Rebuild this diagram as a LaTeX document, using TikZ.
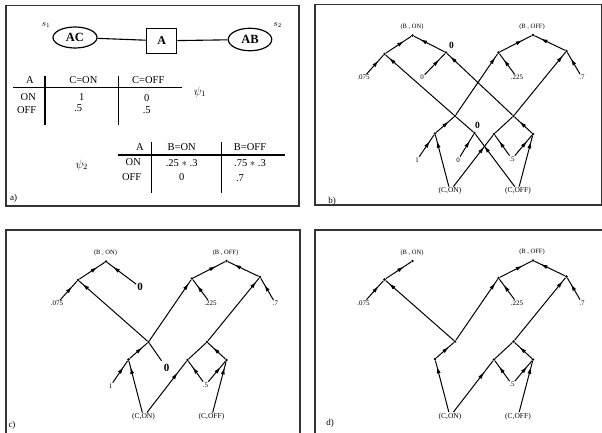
\documentclass[tikz,border=0pt]{standalone}
\usepackage{fontspec}
\setmainfont{Liberation Serif}
\usetikzlibrary{shapes.geometric,decorations.markings,arrows.meta}
\newcommand\TreeBase{%
 \node[bl] (lBON) at (412,27) {(B , ON)};
 \node[bl] (lBOFF) at (532,26.5) {(B , OFF)};
 \node[vtx] (BON) at (412.5,35.5) {};
 \node[vtx] (BOFF) at (533,35) {};
 \node[vtx] (L1) at (384.5,54) {};
 \node[vtx] (L2) at (498.5,52.5) {};
 \node[vtx] (R2) at (566.5,51) {};
 \node[vtx] (N1) at (435,133.5) {};
 \node[vtx] (N2) at (455,116) {};
 \node[vtx] (N4) at (513.5,116) {};
 \node[vtx] (N5) at (533,134) {};
 \node[vtx] (N6) at (494,134) {};
 \node[lf] (v075) at (363.5,77.5) {.075};
 \node[lf] (v225) at (517,77.5) {.225};
 \node[lf] (v7) at (582,77.5) {.7};
 \node[lf] (v5) at (512,159) {.5};
 \node[cl] (cON) at (450,191) {(C,ON)};
 \node[cl] (cOFF) at (518,191) {(C,OFF)};
 \draw[ar] (L1) -- (BON);
 \draw[ar] (L2) -- (BOFF);
 \draw[ar=0.8] (R2) -- (BOFF);
 \draw[ar] (v075) -- (L1);
 \draw[ar] (v225) -- (L2);
 \draw[ar] (v7) -- (R2);
 \draw[ar=-4pt] (N2) -- (L1);
 \draw[ar=-4pt] (N2) -- (L2);
 \draw[ar=-4pt] (N4) -- (R2);
 \draw[ar] (N1) -- (N2);
 \draw[ed] (N6) -- (N4);
 \draw[ar] (N5) -- (N4);
 \draw[ar] (v5) -- (N6);
 \draw[ar] (v5) -- (N5);
 \draw[ar=0.78] (cON) -- (N6);
 \draw[ar=-6pt] (cOFF) -- (N5);
 \draw[ar=-6pt] (cON) -- (N1);
}
\begin{document}
\begin{tikzpicture}[x=1pt,y=-1pt,
  vtx/.style={circle,fill,inner sep=0pt,minimum size=2.8pt},
  lf/.style={inner sep=0.8pt,font=\fontsize{7}{8}\selectfont},
  cl/.style={inner sep=0.8pt,font=\fontsize{7.5}{8}\selectfont},
  bl/.style={inner sep=0.8pt,font=\fontsize{6.5}{7}\selectfont},
  zb/.style={inner sep=0.8pt,font=\fontsize{9.5}{10}\selectfont\bfseries},
  zc/.style={inner sep=0.8pt,font=\fontsize{11}{12}\selectfont\bfseries},
  ed/.style={line width=1pt},
  ar/.style={ed,postaction={decorate},decoration={markings,mark=at position #1 with {\arrow{Latex[length=7pt,width=4pt]}}}},
  ar/.default=0.72,
  frame/.style={line width=1.7pt,draw=black!80},
  tab/.style={font=\fontsize{10.5}{11}\selectfont,inner sep=0pt},
  rule/.style={line width=1.2pt},
  plab/.style={font=\fontsize{9}{10}\selectfont,inner sep=0pt}
]
\useasboundingbox (0,0) rectangle (602,432);
% frames
\draw[frame] (6,5.5) rectangle (299,206);
\draw[frame] (315,4.5) rectangle (602,205);
\draw[frame] (6,230) rectangle (300,436);
\draw[frame] (315,230) rectangle (604,436);
% ---------- panel a ----------
\node[draw,ellipse,line width=1.2pt,minimum width=44pt,minimum height=21pt,inner sep=0pt,font=\fontsize{12.5}{13}\selectfont\bfseries] (AC) at (75,37.5) {AC};
\node[draw,rectangle,line width=1.2pt,minimum width=30pt,minimum height=25pt,inner sep=0pt,font=\fontsize{12}{13}\selectfont\bfseries] (A) at (161.7,40.8) {A};
\node[draw,ellipse,line width=1.2pt,minimum width=43.5pt,minimum height=22.5pt,inner sep=0pt,font=\fontsize{12.5}{13}\selectfont\bfseries] (AB) at (250,39.5) {AB};
\draw[line width=1.1pt] (AC) -- (A) -- (AB);
\node[inner sep=0pt,font=\fontsize{9}{10}\selectfont] (s1) at (46,25) {$s_1$};
\node[inner sep=0pt,font=\fontsize{9}{10}\selectfont] (s2) at (277.5,25.5) {$s_2$};
% table psi1
\node[tab] (t1a) at (30,80) {A};
\node[tab] (t1b) at (83.3,80) {C=ON};
\node[tab] (t1c) at (148.3,80) {C=OFF};
\node[tab] (t1d) at (28.3,97) {ON};
\node[tab] (t1e) at (26.7,110) {OFF};
\node[tab] (t1f) at (81.7,97) {1};
\node[tab] (t1g) at (146.7,98) {0};
\node[tab] (t1h) at (78.3,108.5) {.5};
\node[tab] (t1i) at (146.7,110) {.5};
\node[inner sep=0pt,font=\fontsize{12}{13}\selectfont] (psi1) at (200,92) {$\psi_1$};
\draw[rule] (13.3,87.3) -- (181.7,87.3);
\draw[rule] (45,76) -- (45,125);
\draw[rule] (118.3,76) -- (118.3,125);
% table psi2
\node[tab] (t2a) at (140,146.7) {A};
\node[tab] (t2b) at (181.7,146.7) {B=ON};
\node[tab] (t2c) at (250,146.7) {B=OFF};
\node[tab] (t2d) at (133.3,162) {ON};
\node[tab] (t2e) at (131.7,177) {OFF};
\node[tab] (t2f) at (181.7,163) {.25 $*$ .3};
\node[tab] (t2g) at (250,163) {.75 $*$ .3};
\node[tab] (t2h) at (181.7,177) {0};
\node[tab] (t2i) at (240,178) {.7};
\node[inner sep=0pt,font=\fontsize{12}{13}\selectfont] (psi2) at (81.7,165) {$\psi_2$};
\draw[rule] (118.3,155) -- (285,155);
\draw[rule] (151.7,141.7) -- (151.7,193.3);
\draw[rule] (221.7,141.7) -- (221.7,193.3);
\node[plab] (la) at (13.5,198.5) {a)};
% ---------- panel b ----------
\begin{scope}[name prefix=b-]
 \TreeBase
 \node[vtx] (R1) at (446,52.5) {};
 \node[zb] (zR1) at (451.5,45) {0};
 \node[lf] (v0b) at (422,77.5) {0};
 \node[vtx] (N3) at (474.5,133) {};
 \node[zb] (zN3) at (477.5,125) {0};
 \node[lf] (v1) at (417,160) {1};
 \node[lf] (v0c) at (458,160) {0};
 \draw[ar=0.8] (R1) -- (BON);
 \draw[ar] (v0b) -- (R1);
 \draw[ar=-4pt] (N4) -- (R1);
 \draw[ed] (N3) -- (N2);
 \draw[ar] (v0c) -- (N3);
 \draw[ar=0.78] (cOFF) -- (N3);
 \draw[ar] (v1) -- (N1);
\end{scope}
\node[plab] (lb) at (332,201) {b)};
% ---------- panel c ----------
\begin{scope}[shift={(-306.5,226)},name prefix=c-]
 \TreeBase
 \node[zc] (z1) at (446.5,61) {0};
 \node[zc] (z2) at (473,142) {0};
 \node[lf] (v1) at (417,160) {1};
 \draw[ar=0.8] (z1) -- (BON);
 \draw[ed,shorten >=3pt] (N2) -- (z2);
 \draw[ar] (v1) -- (N1);
\end{scope}
\node[plab] (lc) at (12,425) {c)};
% ---------- panel d ----------
\begin{scope}[shift={(0,225.5)},name prefix=d-]
 \TreeBase
\end{scope}
\node[plab] (ld) at (330,423.5) {d)};
\end{tikzpicture}
\end{document}
